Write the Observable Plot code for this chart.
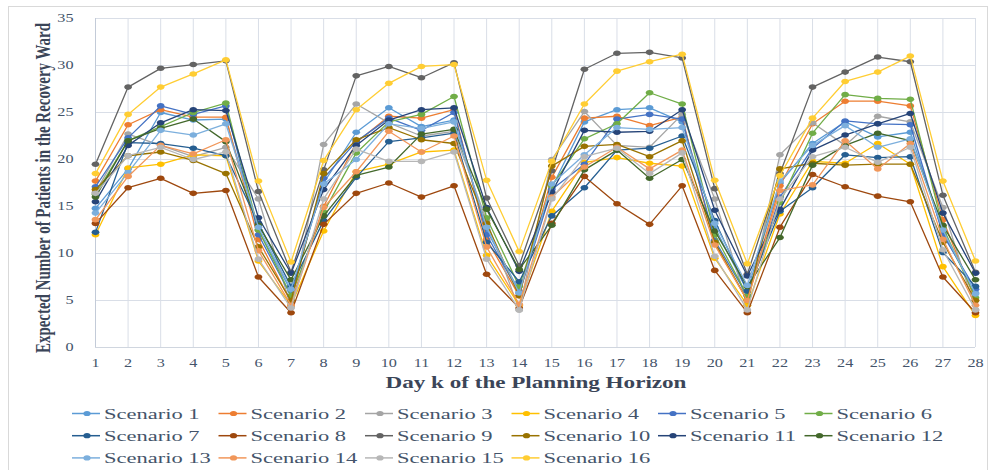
<!DOCTYPE html>
<html>
<head>
<meta charset="utf-8">
<script src="https://cdn.jsdelivr.net/npm/d3@7"></script>
<script src="https://cdn.jsdelivr.net/npm/@observablehq/plot@0.6"></script>
<style>
  html, body { margin: 0; padding: 0; background: #ffffff; }
  #wrap { position: relative; width: 993px; height: 470px; overflow: hidden; }
  #frame { position: absolute; left: 8px; top: 6px; width: 978px; height: 480px; border: 1px solid #d9d9d9; pointer-events: none; }
  #chart svg, #legend svg { display: block; }
</style>
</head>
<body>
<div id="wrap">
  <div id="chart"></div>
  <div id="legend"></div>
  <div id="frame"></div>
</div>
<script>
const days = d3.range(1, 29);
const yTicks = [0, 5, 10, 15, 20, 25, 30, 35];
const scenarioNames = d3.range(1, 17).map(i => "Scenario " + i);
const scenarioColors = ["#5B9BD5", "#ED7D31", "#A5A5A5", "#FFC000", "#4472C4", "#70AD47",
  "#255E91", "#9E480E", "#636363", "#997300", "#264478", "#43682B",
  "#7CAFDD", "#F1975A", "#B7B7B7", "#FFCD33"];

const s1  = [14.8, 19.0, 25.0, 24.2, 24.3, 12.5, 6.0, 17.5, 22.9, 25.5, 23.5, 24.2, 12.5, 6.0, 17.0, 24.0, 25.3, 25.5, 24.0, 12.8, 6.0, 17.5, 21.7, 24.0, 22.4, 22.9, 12.2, 5.8];
const s2  = [17.7, 23.7, 25.3, 24.5, 24.5, 11.5, 4.8, 15.0, 21.8, 24.6, 24.4, 25.3, 11.5, 5.5, 18.1, 24.4, 24.6, 23.6, 24.5, 11.0, 5.0, 17.2, 23.8, 26.2, 26.2, 25.7, 13.6, 5.0];
const s3  = [16.5, 22.7, 21.5, 20.3, 21.3, 15.8, 4.3, 21.6, 25.9, 23.9, 22.5, 23.0, 13.5, 4.0, 20.0, 25.1, 21.5, 21.3, 24.8, 15.8, 4.5, 20.5, 23.9, 21.5, 24.6, 24.0, 14.9, 4.0];
const s4  = [12.0, 19.1, 19.5, 20.5, 20.4, 9.2, 4.5, 12.4, 18.7, 19.5, 20.8, 21.0, 9.8, 4.5, 14.5, 19.7, 20.2, 19.6, 19.3, 9.5, 4.5, 14.2, 19.8, 19.6, 21.7, 19.5, 8.6, 3.4];
const s5  = [17.1, 22.3, 25.7, 24.8, 25.7, 12.0, 5.5, 18.0, 21.9, 24.4, 23.1, 25.0, 12.0, 5.8, 16.8, 19.5, 24.3, 24.8, 24.3, 11.4, 5.5, 16.0, 21.2, 24.1, 23.8, 23.7, 12.0, 6.2];
const s6  = [16.3, 22.0, 23.5, 25.0, 26.0, 12.5, 5.5, 14.4, 20.7, 24.0, 24.8, 26.7, 13.8, 6.5, 17.2, 22.2, 23.8, 27.1, 25.9, 12.0, 5.5, 15.4, 22.8, 26.9, 26.5, 26.4, 12.8, 5.3];
const s7  = [12.25, 21.8, 21.7, 21.2, 20.4, 13.2, 6.5, 13.5, 18.1, 21.9, 22.3, 22.8, 11.2, 7.0, 14.0, 17.0, 21.0, 21.2, 22.5, 13.5, 6.0, 14.5, 17.0, 20.5, 20.2, 20.3, 10.1, 6.5];
const s8  = [13.2, 17.0, 18.0, 16.4, 16.7, 7.5, 3.7, 13.1, 16.4, 17.5, 16.0, 17.2, 7.8, 4.2, 13.2, 18.2, 15.3, 13.1, 17.2, 8.2, 3.7, 12.8, 18.4, 17.1, 16.1, 15.5, 7.5, 3.7];
const s9  = [19.5, 27.7, 29.7, 30.1, 30.5, 16.6, 8.0, 18.9, 28.9, 29.9, 28.7, 30.3, 15.9, 8.7, 18.8, 29.6, 31.3, 31.4, 30.8, 16.9, 7.8, 18.5, 27.7, 29.3, 30.9, 30.4, 16.2, 8.0];
const s10 = [16.8, 20.4, 20.8, 19.9, 18.5, 10.7, 5.0, 18.5, 22.1, 23.4, 22.1, 21.7, 13.2, 5.5, 19.3, 21.4, 21.6, 20.3, 22.0, 11.2, 5.0, 19.0, 19.6, 19.4, 19.5, 19.5, 11.2, 5.0];
const s11 = [15.5, 21.5, 23.9, 25.3, 25.2, 13.8, 7.9, 16.8, 21.5, 24.2, 25.3, 25.5, 14.9, 8.1, 16.5, 23.1, 22.9, 23.0, 25.3, 14.6, 7.6, 14.7, 21.0, 22.6, 23.8, 24.9, 14.3, 7.9];
const s12 = [16.0, 22.0, 23.3, 24.3, 21.9, 13.0, 7.2, 14.0, 18.3, 19.2, 22.7, 23.2, 14.7, 8.3, 13.0, 18.9, 21.0, 18.0, 20.0, 12.4, 6.5, 11.7, 19.4, 21.5, 22.8, 22.0, 13.0, 7.2];
const s13 = [14.3, 18.6, 23.1, 22.6, 23.8, 12.8, 6.2, 17.4, 20.0, 23.8, 23.3, 24.0, 12.8, 5.8, 17.4, 20.5, 23.4, 23.2, 23.4, 13.2, 6.6, 17.7, 21.5, 23.6, 21.3, 22.2, 12.5, 5.7];
const s14 = [13.6, 18.2, 21.5, 20.6, 22.1, 10.3, 4.5, 14.9, 18.7, 23.0, 20.8, 22.5, 10.7, 4.6, 16.0, 19.2, 21.3, 19.0, 21.0, 10.9, 5.0, 16.7, 17.3, 22.0, 19.0, 21.7, 11.5, 4.5];
const s15 = [16.4, 20.4, 21.3, 20.0, 20.8, 9.4, 4.2, 15.8, 21.1, 19.8, 19.8, 20.8, 9.4, 4.0, 15.8, 20.3, 21.2, 18.5, 20.7, 9.7, 4.0, 15.8, 20.3, 21.3, 19.7, 21.3, 10.4, 4.0];
const s16 = [18.5, 24.8, 27.7, 29.1, 30.6, 17.7, 9.1, 19.9, 25.3, 28.1, 29.9, 30.1, 17.8, 10.2, 19.8, 25.9, 29.4, 30.4, 31.2, 17.8, 8.9, 18.3, 24.4, 28.3, 29.3, 31.0, 17.7, 9.2];

const xTitle = "Day k of the Planning Horizon";
const yTitle = "Expected Number of Patients in the Recovery Ward";

const seriesValues = [s1, s2, s3, s4, s5, s6, s7, s8, s9, s10, s11, s12, s13, s14, s15, s16];
const tables = seriesValues.map((vals, i) => vals.map((v, j) => ({day: days[j], value: v, scenario: scenarioNames[i]})));

const TEXT = "#44546a";
const GRID = "#d9dee7";

const ellipse = {
  draw(ctx) {
    const rx = 3.9, ry = 2.8, k = 0.5523;
    ctx.moveTo(rx, 0);
    ctx.bezierCurveTo(rx, k * ry, k * rx, ry, 0, ry);
    ctx.bezierCurveTo(-k * rx, ry, -rx, k * ry, -rx, 0);
    ctx.bezierCurveTo(-rx, -k * ry, -k * rx, -ry, 0, -ry);
    ctx.bezierCurveTo(k * rx, -ry, rx, -k * ry, rx, 0);
    ctx.closePath();
  }
};

const seriesMarks = tables.flatMap((t, i) => [
  Plot.line(t, {x: "day", y: "value", stroke: scenarioColors[i], strokeWidth: 1.3}),
  Plot.dot(t, {x: "day", y: "value", fill: scenarioColors[i], symbol: ellipse, r: 3})
]);

const chart = Plot.plot({
  width: 993,
  height: 395,
  marginLeft: 95,
  marginRight: 18,
  marginTop: 18,
  marginBottom: 48,
  style: {fontFamily: "'Liberation Serif', 'Times New Roman', serif", fontSize: "12px", color: TEXT, background: "transparent", overflow: "visible"},
  x: {domain: [1, 28], ticks: days, tickFormat: d => String(d), tickSize: 0, tickPadding: 11, label: null},
  y: {domain: [0, 35], ticks: yTicks, tickFormat: d => String(d), tickSize: 0, tickPadding: 22, label: null},
  marks: [
    Plot.ruleX(days, {stroke: GRID, strokeWidth: 1}),
    Plot.ruleY(yTicks, {stroke: GRID, strokeWidth: 1}),
    Plot.ruleX([1], {stroke: "#c3cbd8", strokeWidth: 1}),
    Plot.ruleY([0], {stroke: "#d0d6df", strokeWidth: 1}),
    ...seriesMarks
  ]
});
document.getElementById("chart").appendChild(chart);

function stretch(el, k) {
  const L = el.getComputedTextLength();
  el.setAttribute("textLength", (L * k).toFixed(2));
  el.setAttribute("lengthAdjust", "spacingAndGlyphs");
}

// stretch tick labels horizontally (reference text is widened)
d3.select(chart).selectAll("text").each(function() { stretch(this, 1.35); });

const svg = d3.select(chart);
const xt = svg.append("text")
  .attr("x", 536).attr("y", 382)
  .attr("text-anchor", "middle")
  .attr("dominant-baseline", "central")
  .attr("font-family", "'Liberation Serif', 'Times New Roman', serif")
  .attr("font-weight", "bold")
  .attr("font-size", 16.5)
  .attr("fill", "#3b4558")
  .text(xTitle);
stretch(xt.node(), 1.4);

const yg = svg.append("g").attr("transform", "translate(43,188) scale(1.4,1) rotate(-90)");
const yt = yg.append("text")
  .attr("x", 0).attr("y", 0)
  .attr("text-anchor", "middle")
  .attr("dominant-baseline", "central")
  .attr("font-family", "'Liberation Serif', 'Times New Roman', serif")
  .attr("font-weight", "bold")
  .attr("font-size", 14.5)
  .attr("fill", "#3b4558")
  .text(yTitle);
yt.attr("textLength", 330).attr("lengthAdjust", "spacingAndGlyphs");

// legend
const leg = d3.select("#legend").append("svg").attr("width", 993).attr("height", 75);
scenarioNames.forEach((name, i) => {
  const row = Math.floor(i / 6), col = i % 6;
  const x0 = 72 + col * 146.5;
  const y = 18.5 + row * 22.2;
  const g = leg.append("g");
  g.append("line").attr("x1", x0).attr("x2", x0 + 28).attr("y1", y).attr("y2", y)
    .attr("stroke", scenarioColors[i]).attr("stroke-width", 1.5);
  g.append("ellipse").attr("cx", x0 + 15).attr("cy", y).attr("rx", 3.6).attr("ry", 2.6)
    .attr("fill", scenarioColors[i]);
  const t = g.append("text").attr("x", x0 + 32).attr("y", y + 0.5)
    .attr("dominant-baseline", "central")
    .attr("font-family", "'Liberation Serif', 'Times New Roman', serif")
    .attr("font-size", 15)
    .attr("fill", TEXT)
    .text(name);
  stretch(t.node(), 1.5);
});
</script>
</body>
</html>
